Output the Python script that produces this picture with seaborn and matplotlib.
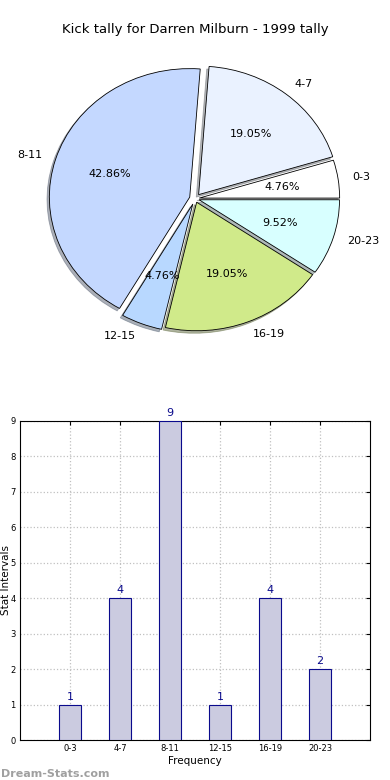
import matplotlib
matplotlib.use("Agg")
import matplotlib.pyplot as plt
import seaborn as sns
import pandas as pd

# ==============================================================================
# DADOS
# ==============================================================================

intervals = ["0-3", "4-7", "8-11", "12-15", "16-19", "20-23"]
kicks = [1, 4, 9, 1, 4, 2]
pie_colors = ["#ffffff", "#eaf2ff", "#c4d8ff", "#b8d8ff", "#d0ea8a", "#d8ffff"]
explode = [0.03, 0.04, 0.04, 0.045, 0.03, 0.03]

title = "Kick tally for Darren Milburn - 1999 tally"

# ==============================================================================
# FIGURA
# ==============================================================================

sns.set_style("white")
plt.rcParams["font.family"] = ["DejaVu Sans"]
plt.rcParams["text.color"] = "black"
plt.rcParams["axes.labelcolor"] = "black"
plt.rcParams["xtick.color"] = "black"
plt.rcParams["ytick.color"] = "black"

fig = plt.figure(figsize=(3.9, 7.8), dpi=100)

# pie (elíptico, como no original)
ax_pie = fig.add_axes([7 / 390, (780 - 367) / 780, 372 / 390, 338 / 780])
ax_pie.pie(
    kicks,
    labels=intervals,
    colors=pie_colors,
    explode=explode,
    autopct="%.2f%%",
    shadow={"ox": -0.012, "oy": -0.014, "shade": 0.55},
    startangle=0,
    counterclock=True,
    wedgeprops={"edgecolor": "black", "linewidth": 0.6},
    textprops={"fontsize": 8},
)
ax_pie.set_aspect("auto")
ax_pie.set_xlim(-1.34, 1.31)
ax_pie.set_ylim(-1.31, 1.32)
ax_pie.axis("off")
fig.text(0.5, 1 - 30 / 780, title, ha="center", va="center", fontsize=9.5)

# barras
ax_bar = fig.add_axes([20 / 390, 40 / 780, 350 / 390, 319 / 780])
df = pd.DataFrame({"interval": intervals, "kicks": kicks})
sns.barplot(
    data=df, x="interval", y="kicks", ax=ax_bar,
    color="#cbcbe0", edgecolor="#0a0a8c", linewidth=0.8, width=0.45,
    saturation=1, zorder=3,
)
for i, v in enumerate(kicks):
    ax_bar.text(i, v + 0.08, str(v), ha="center", va="bottom",
                color="#0a0a8c", fontsize=8)

ax_bar.set_xlim(-1, 6)
ax_bar.set_ylim(0, 9)
ax_bar.set_yticks(range(10))
ax_bar.grid(True, linestyle=":", color="#c0c0c0", linewidth=0.9, zorder=0)
ax_bar.set_axisbelow(True)
ax_bar.tick_params(labelsize=6, direction="in", length=3, right=True, top=True,
                   pad=3)
ax_bar.set_xlabel("Frequency", fontsize=7.5, labelpad=2)
ax_bar.set_ylabel("")
fig.text(1 / 390, 1 - 580 / 780, "Stat Intervals", rotation=90,
         ha="left", va="center", fontsize=7.5)
for s in ax_bar.spines.values():
    s.set_color("black")
    s.set_linewidth(0.8)

fig.text(0.002, 6 / 780, "Dream-Stats.com", color="#a0a0a0",
         fontsize=8, fontweight="bold", ha="left", va="center")

fig.savefig("out.png", dpi=100)
